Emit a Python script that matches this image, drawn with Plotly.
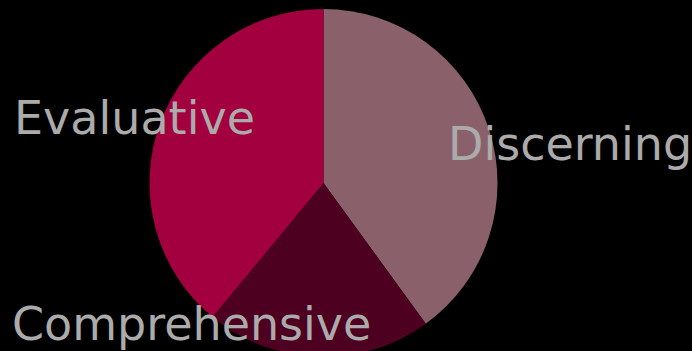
import plotly.graph_objects as go

# Share of each thinking style
labels = ["Discerning", "Comprehensive", "Evaluative"]
values = [40, 21, 39]
colors = ["#8a606a", "#4e0020", "#a2003f"]

# Label anchor points (paper coordinates) for the large captions
label_x = [0.645, 0.014, 0.017]
label_y = [0.612, 0.094, 0.686]

fig = go.Figure(
    go.Pie(
        labels=labels,
        values=values,
        marker=dict(colors=colors, line=dict(width=0)),
        sort=False,
        direction="clockwise",
        rotation=0,
        textinfo="none",
        hoverinfo="label+percent",
        domain=dict(x=[0, 0.935], y=[0, 1]),
        showlegend=False,
    )
)

for text, x, y in zip(labels, label_x, label_y):
    fig.add_annotation(
        text=text,
        x=x,
        y=y,
        xref="paper",
        yref="paper",
        xanchor="left",
        yanchor="middle",
        showarrow=False,
        font=dict(family="DejaVu Sans", size=46, color="#ababab"),
    )

fig.update_layout(
    width=692,
    height=357,
    margin=dict(l=0, r=0, t=9, b=0),
    paper_bgcolor="#000000",
    plot_bgcolor="#000000",
)

fig.write_html("out.html")
